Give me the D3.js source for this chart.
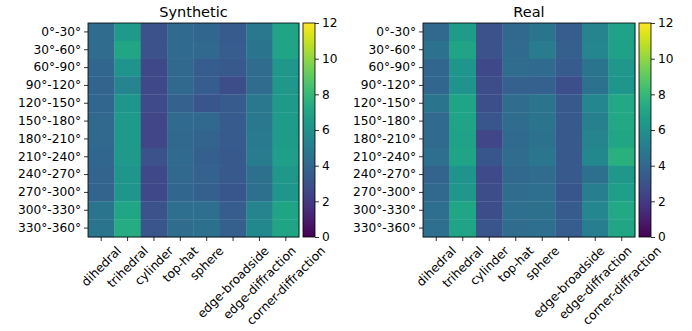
<!DOCTYPE html>
<html>
<head>
<meta charset="utf-8">
<script src="https://cdn.jsdelivr.net/npm/d3@7"></script>
<style>
  html, body { margin: 0; padding: 0; background: #fff; }
  svg { display: block; }
  text { font-family: "DejaVu Sans", sans-serif; fill: #000; }
</style>
</head>
<body>
<svg id="chart" width="692" height="331"></svg>
<script>
// Scattering mechanisms (columns) and aspect-angle bins (rows)
const mechanisms = ["dihedral", "trihedral", "cylinder", "top-hat", "sphere",
  "edge-broadside", "edge-diffraction", "corner-diffraction"];
const angleBins = ["0°-30°", "30°-60°", "60°-90°", "90°-120°", "120°-150°", "150°-180°",
  "180°-210°", "210°-240°", "240°-270°", "270°-300°", "300°-330°", "330°-360°"];
const colorTicks = [0, 2, 4, 6, 8, 10, 12];

// One row per angle bin, one value per mechanism
const syntheticValues = [
  [4.2, 6.5, 3.0, 4.1, 3.9, 3.4, 4.8, 7.0],
  [4.2, 7.1, 3.0, 4.1, 4.0, 3.5, 4.6, 7.0],
  [3.9, 6.2, 2.6, 4.0, 3.5, 3.3, 4.2, 6.4],
  [3.8, 5.4, 2.6, 4.0, 3.5, 2.8, 4.2, 6.4],
  [3.9, 6.3, 2.7, 3.7, 3.2, 3.4, 4.8, 6.5],
  [4.0, 6.5, 2.5, 4.1, 4.0, 3.4, 4.8, 6.6],
  [4.0, 6.5, 2.5, 4.0, 3.8, 3.4, 4.9, 6.6],
  [3.9, 6.5, 3.0, 4.1, 3.6, 3.3, 5.0, 6.7],
  [3.8, 6.3, 2.6, 4.0, 3.7, 3.3, 4.4, 6.4],
  [3.8, 6.3, 2.6, 3.9, 3.6, 3.2, 4.4, 6.3],
  [4.6, 7.1, 3.0, 4.3, 4.3, 3.5, 5.4, 7.0],
  [4.6, 7.4, 3.1, 4.2, 4.4, 3.6, 5.6, 7.0]
];
const realValues = [
  [4.0, 6.6, 3.0, 4.0, 4.6, 3.5, 5.4, 6.9],
  [4.5, 7.0, 3.0, 4.1, 5.0, 3.6, 5.5, 6.8],
  [3.9, 6.3, 2.6, 4.2, 4.1, 3.4, 4.6, 6.4],
  [3.9, 6.2, 2.8, 3.7, 3.7, 2.9, 4.5, 6.3],
  [4.6, 7.0, 2.9, 4.2, 4.6, 3.3, 5.5, 7.2],
  [4.1, 7.0, 3.2, 4.2, 4.6, 3.3, 5.2, 7.2],
  [4.1, 6.9, 2.5, 4.1, 4.5, 3.3, 5.4, 7.1],
  [4.3, 7.0, 3.2, 4.2, 4.7, 3.3, 5.6, 7.6],
  [3.8, 6.2, 2.7, 4.0, 4.2, 3.3, 4.4, 6.4],
  [4.0, 6.4, 2.8, 4.2, 4.3, 3.2, 5.1, 6.7],
  [4.3, 7.1, 2.8, 4.3, 4.4, 3.4, 5.5, 7.2],
  [4.3, 7.0, 3.1, 4.2, 4.3, 3.5, 5.1, 7.1]
];

const svg = d3.select("#chart");
const color = d3.scaleSequential(d3.interpolateViridis).domain([0, 12]);
const FS = 12.2;

const panels = [
  { title: "Synthetic", values: syntheticValues, x0: 88, x1: 299, cb0: 303, cb1: 315 },
  { title: "Real", values: realValues, x0: 423, x1: 635, cb0: 639, cb1: 651 }
];
const y0 = 23, y1 = 237;

panels.forEach((p, pi) => {
  const g = svg.append("g");
  const x = d3.scaleBand().domain(mechanisms).range([p.x0, p.x1]);
  const y = d3.scaleBand().domain(angleBins).range([y0, y1]);

  const cells = [];
  p.values.forEach((row, ri) => row.forEach((v, ci) =>
    cells.push({ r: angleBins[ri], c: mechanisms[ci], v })));

  g.selectAll("rect.cell").data(cells).join("rect")
    .attr("class", "cell")
    .attr("x", d => x(d.c))
    .attr("y", d => y(d.r))
    .attr("width", x.bandwidth() + 0.3)
    .attr("height", y.bandwidth() + 0.3)
    .attr("fill", d => color(d.v));

  g.append("rect")
    .attr("x", p.x0).attr("y", y0)
    .attr("width", p.x1 - p.x0).attr("height", y1 - y0)
    .attr("fill", "none").attr("stroke", "#000").attr("stroke-width", 0.8);

  // y axis
  const yAxis = g.append("g").attr("transform", `translate(${p.x0},0)`)
    .call(d3.axisLeft(y).tickSize(4).tickPadding(3));
  yAxis.select(".domain").remove();
  yAxis.selectAll("text").style("font-size", FS + "px").attr("fill", "#000");
  yAxis.selectAll("line").attr("stroke", "#000").attr("stroke-width", 0.8);

  // x axis with labels rotated 45°, bounding box centred under each tick
  const xAxis = g.append("g").attr("transform", `translate(0,${y1})`)
    .call(d3.axisBottom(x).tickSize(4));
  xAxis.select(".domain").remove();
  xAxis.selectAll("line").attr("stroke", "#000").attr("stroke-width", 0.8);
  const top = 6.5;
  xAxis.selectAll("text")
    .style("font-size", FS + "px")
    .attr("fill", "#000")
    .attr("text-anchor", "middle")
    .attr("dy", "0.35em")
    .attr("y", 0)
    .each(function () {
      const w = this.getComputedTextLength();
      const h = FS * 1.17;
      const half = (w + h) / (2 * Math.SQRT2);
      d3.select(this).attr("transform", `translate(0,${top + half}) rotate(-45)`);
    });

  // title
  g.append("text")
    .attr("x", (p.x0 + p.x1) / 2).attr("y", 17)
    .attr("text-anchor", "middle")
    .style("font-size", "14.5px")
    .text(p.title);

  // colorbar
  const cy = d3.scaleLinear().domain([0, 12]).range([y1, y0]);
  const gradId = "grad" + pi;
  const grad = svg.append("defs").append("linearGradient")
    .attr("id", gradId).attr("x1", 0).attr("y1", 1).attr("x2", 0).attr("y2", 0);
  d3.range(0, 1.0001, 0.05).forEach(t => grad.append("stop")
    .attr("offset", t).attr("stop-color", color(t * 12)));
  g.append("rect")
    .attr("x", p.cb0).attr("y", y0)
    .attr("width", p.cb1 - p.cb0).attr("height", y1 - y0)
    .attr("fill", `url(#${gradId})`)
    .attr("stroke", "#000").attr("stroke-width", 0.8);
  const cAxis = g.append("g").attr("transform", `translate(${p.cb1},0)`)
    .call(d3.axisRight(cy).tickValues(colorTicks).tickSize(4).tickPadding(3));
  cAxis.select(".domain").remove();
  cAxis.selectAll("text").style("font-size", FS + "px").attr("fill", "#000");
  cAxis.selectAll("line").attr("stroke", "#000").attr("stroke-width", 0.8);
});
</script>
</body>
</html>
